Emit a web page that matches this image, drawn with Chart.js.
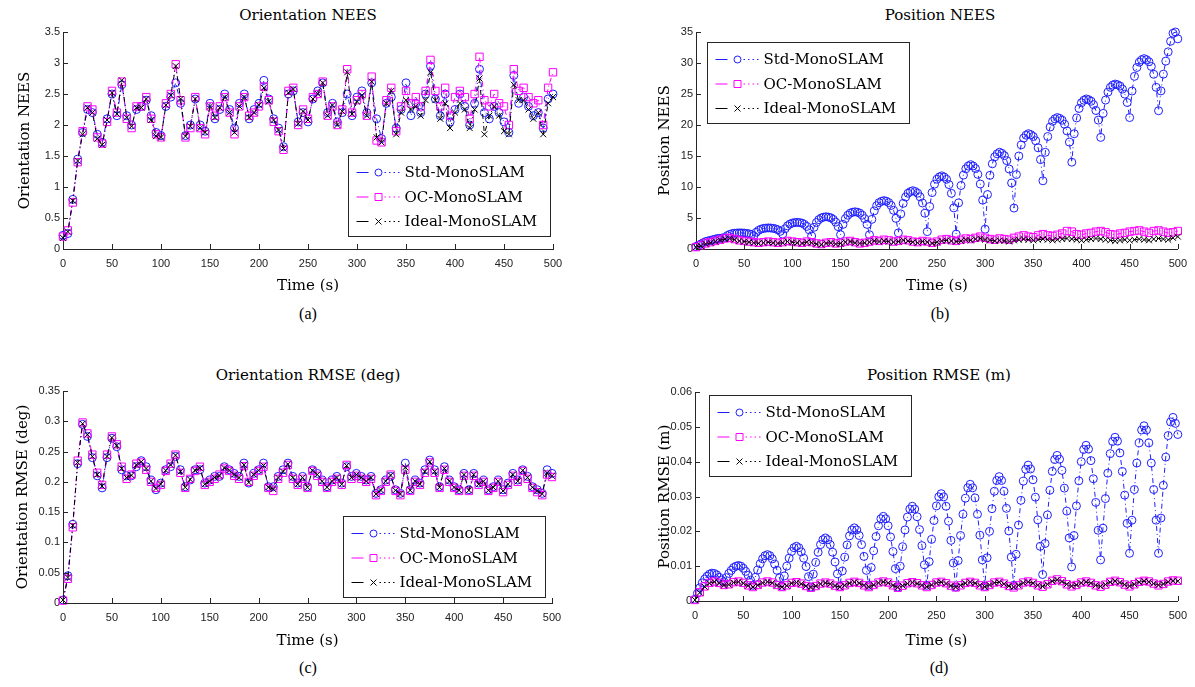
<!DOCTYPE html>
<html>
<head>
<meta charset="utf-8">
<script src="https://cdn.jsdelivr.net/npm/chart.js@4.4.1/dist/chart.umd.min.js"></script>
<style>
body { margin: 0; background: #fff; width: 1195px; height: 687px; position: relative; overflow: hidden; }
canvas { position: absolute; }
.ttl { position: absolute; font: 15px "DejaVu Serif"; color: #000; transform: translate(-50%, -50%); white-space: nowrap; }
.cap { position: absolute; font: 16px "Liberation Serif"; color: #000; transform: translate(-50%, -50%); }
</style>
</head>
<body>
<div class="ttl" style="left:308px;top:15px">Orientation NEES</div>
<div class="ttl" style="left:940px;top:15px">Position NEES</div>
<div class="ttl" style="left:308px;top:375px">Orientation RMSE (deg)</div>
<div class="ttl" style="left:939px;top:375px">Position RMSE (m)</div>
<div class="cap" style="left:308px;top:314px">(a)</div>
<div class="cap" style="left:940px;top:314px">(b)</div>
<div class="cap" style="left:308px;top:668px">(c)</div>
<div class="cap" style="left:939px;top:668px">(d)</div>

<canvas id="ca" width="597" height="300" style="left:0;top:0"></canvas>
<canvas id="cb" width="565" height="300" style="left:630px;top:0"></canvas>
<canvas id="cc" width="597" height="300" style="left:0;top:355px"></canvas>
<canvas id="cd" width="565" height="300" style="left:630px;top:355px"></canvas>

<script>
// time axes (s)
var t5 = [];
for (var i = 0; i <= 100; i++) t5.push(i * 5);
var t25 = [];
for (var i = 0; i <= 200; i++) t25.push(i * 2.5);

var seriesNames = ['Std-MonoSLAM', 'OC-MonoSLAM', 'Ideal-MonoSLAM'];

var xTicks = [0, 50, 100, 150, 200, 250, 300, 350, 400, 450, 500];
var xLabels = ['0', '50', '100', '150', '200', '250', '300', '350', '400', '450', '500'];
var yTicksA = [0, 0.5, 1, 1.5, 2, 2.5, 3, 3.5];
var yLabelsA = ['0', '0.5', '1', '1.5', '2', '2.5', '3', '3.5'];
var yTicksB = [0, 5, 10, 15, 20, 25, 30, 35];
var yLabelsB = ['0', '5', '10', '15', '20', '25', '30', '35'];
var yTicksC = [0, 0.05, 0.1, 0.15, 0.2, 0.25, 0.3, 0.35];
var yLabelsC = ['0', '0.05', '0.1', '0.15', '0.2', '0.25', '0.3', '0.35'];
var yTicksD = [0, 0.01, 0.02, 0.03, 0.04, 0.05, 0.06];
var yLabelsD = ['0', '0.01', '0.02', '0.03', '0.04', '0.05', '0.06'];

// (a) orientation NEES, every 5 s
var stdA = [0.22, 0.25, 0.8, 1.45, 1.88, 2.25, 2.2, 1.85, 1.72, 2.1, 2.5, 2.15, 2.65, 2.15, 2.0, 2.25, 2.3, 2.4, 2.15, 1.88,
  1.83, 2.3, 2.45, 2.68, 2.35, 1.83, 2.0, 2.42, 2.0, 1.9, 2.35, 2.1, 2.25, 2.5, 2.25, 1.95, 2.35, 2.5, 2.1, 2.25,
  2.35, 2.72, 2.42, 2.1, 1.95, 1.65, 2.5, 2.55, 2.05, 2.2, 2.05, 2.42, 2.55, 2.68, 2.2, 2.35, 2.05, 2.2, 2.5, 2.15,
  2.45, 2.55, 2.2, 2.68, 2.1, 1.78, 2.35, 2.45, 1.95, 2.25, 2.68, 2.15, 2.35, 2.2, 2.5, 2.95, 2.42, 2.15, 2.5, 2.05,
  2.25, 2.5, 2.3, 2.0, 2.35, 2.9, 2.2, 2.1, 2.3, 2.2, 2.05, 1.88, 2.8, 2.35, 2.45, 2.3, 2.15, 2.2, 1.95, 2.42, 2.5];
var ocA = [0.2, 0.3, 0.75, 1.4, 1.9, 2.3, 2.25, 1.8, 1.7, 2.05, 2.55, 2.2, 2.7, 2.1, 1.95, 2.3, 2.3, 2.45, 2.1, 1.85,
  1.8, 2.35, 2.5, 2.98, 2.4, 1.8, 1.95, 2.45, 1.95, 1.85, 2.3, 2.15, 2.3, 2.45, 2.2, 1.85, 2.3, 2.45, 2.15, 2.2,
  2.3, 2.62, 2.4, 2.05, 1.9, 1.6, 2.55, 2.6, 2.0, 2.25, 2.1, 2.45, 2.5, 2.7, 2.15, 2.3, 2.0, 2.25, 2.9, 2.2,
  2.4, 2.5, 2.15, 2.78, 1.75, 1.72, 2.4, 2.6, 1.9, 2.3, 2.55, 2.35, 2.45, 2.3, 2.55, 3.05, 2.55, 2.3, 2.6, 2.15,
  2.45, 2.55, 2.45, 2.1, 2.5, 3.1, 2.4, 2.3, 2.5, 2.35, 2.3, 2.0, 2.9, 2.55, 2.6, 2.45, 2.35, 2.4, 2.0, 2.6, 2.85];
var idealA = [0.18, 0.28, 0.78, 1.42, 1.85, 2.28, 2.2, 1.78, 1.68, 2.08, 2.52, 2.18, 2.72, 2.12, 1.98, 2.28, 2.28, 2.42, 2.08, 1.82,
  1.8, 2.32, 2.48, 2.95, 2.42, 1.82, 1.98, 2.42, 1.95, 1.88, 2.3, 2.12, 2.28, 2.45, 2.2, 1.88, 2.3, 2.45, 2.12, 2.2,
  2.32, 2.6, 2.38, 2.08, 1.92, 1.62, 2.52, 2.58, 2.02, 2.22, 2.08, 2.42, 2.5, 2.68, 2.15, 2.32, 2.0, 2.22, 2.85, 2.18,
  2.38, 2.48, 2.15, 2.7, 1.8, 1.72, 2.35, 2.55, 1.85, 2.2, 2.4, 2.25, 2.3, 2.15, 2.4, 2.85, 2.4, 2.1, 2.35, 1.95,
  2.2, 2.35, 2.25, 1.95, 2.25, 2.75, 1.85, 2.15, 2.3, 2.15, 1.9, 1.85, 2.65, 2.4, 2.4, 2.25, 2.1, 2.2, 1.85, 2.35, 2.45];

// (b) position NEES; Std every 2.5 s, others every 5 s
var stdB = [0.4, 0.6, 0.8, 1.0, 1.2, 1.3, 1.4, 1.5, 1.6, 1.7, 1.7, 1.8,
  1.8, 2.16, 2.36, 2.48, 2.55, 2.58, 2.6, 2.59, 2.57, 2.52, 2.45, 2.32,
  2.1, 2.69, 3.01, 3.2, 3.32, 3.37, 3.4, 3.38, 3.34, 3.25, 3.1, 2.85,
  2.4, 3.26, 3.73, 4.02, 4.19, 4.26, 4.3, 4.26, 4.17, 3.97, 3.64, 3.09,
  2.1, 3.5, 4.27, 4.74, 5.01, 5.14, 5.2, 5.14, 5.03, 4.77, 4.33, 3.61,
  2.3, 3.97, 4.89, 5.45, 5.78, 5.93, 6.0, 5.93, 5.78, 5.45, 4.89, 3.97,
  2.3, 4.78, 6.15, 6.98, 7.47, 7.69, 7.8, 7.7, 7.49, 7.02, 6.24, 4.94,
  2.6, 5.66, 7.36, 8.38, 8.99, 9.26, 9.4, 9.27, 9.0, 8.41, 7.42, 5.77,
  2.8, 6.85, 9.1, 10.45, 11.26, 11.62, 11.8, 11.61, 11.24, 10.39, 8.98, 6.63,
  2.4, 7.44, 10.24, 11.92, 12.93, 13.38, 13.6, 13.39, 12.98, 12.04, 10.48, 7.88,
  3.2, 8.78, 11.88, 13.74, 14.86, 15.35, 15.6, 15.42, 15.06, 14.25, 12.9, 10.65,
  6.6, 12.0, 15.0, 16.8, 17.88, 18.36, 18.6, 18.45, 18.14, 17.46, 16.32, 14.42,
  11.0, 15.59, 18.14, 19.67, 20.59, 21.0, 21.2, 21.06, 20.77, 20.12, 19.04, 17.24,
  14.0, 18.59, 21.14, 22.67, 23.59, 24.0, 24.2, 24.08, 23.83, 23.27, 22.34, 20.79,
  18.0, 21.87, 24.02, 25.31, 26.08, 26.43, 26.6, 26.49, 26.28, 25.79, 24.98, 23.63,
  21.2, 25.48, 27.85, 29.28, 30.13, 30.51, 30.7, 30.53, 30.2, 29.44, 28.18, 26.08,
  22.3, 25.5, 28.2, 30.3, 31.8, 33.5, 34.8, 35.0, 33.9];
var ocB = [0.3, 0.6, 0.9, 1.1, 1.3, 1.5, 1.7, 1.8, 1.6, 1.4, 1.3, 1.2, 1.1, 1.0, 1.1, 1.2, 1.1, 1.0, 1.1, 1.3,
  1.2, 1.1, 1.0, 1.2, 1.1, 0.9, 0.8, 1.0, 1.1, 0.9, 1.0, 1.2, 1.3, 1.1, 0.9, 1.0, 1.2, 1.4, 1.3, 1.5,
  1.4, 1.2, 1.3, 1.5, 1.4, 1.2, 1.1, 1.3, 1.2, 1.0, 1.2, 1.5, 1.6, 1.4, 1.3, 1.5, 1.7, 1.6, 1.8, 2.0,
  1.8, 1.6, 1.5, 1.7, 1.6, 1.5, 1.8, 2.0, 2.2, 2.0, 1.9, 2.2, 2.4, 2.2, 2.1, 2.3, 2.5, 2.9, 2.8, 2.4,
  2.3, 2.5, 2.6, 2.8, 2.9, 2.7, 2.4, 2.3, 2.5, 2.6, 2.8, 2.9, 3.0, 2.8, 2.6, 2.9, 3.0, 2.8, 2.6, 2.7, 2.9];
var idealB = [0.3, 0.5, 0.8, 1.0, 1.2, 1.4, 1.6, 1.7, 1.5, 1.3, 1.2, 1.1, 1.0, 0.9, 1.0, 1.1, 1.0, 0.9, 1.0, 1.2,
  1.1, 1.0, 0.9, 1.1, 1.0, 0.8, 0.7, 0.9, 1.0, 0.8, 0.9, 1.1, 1.2, 1.0, 0.9, 1.0, 1.1, 1.3, 1.2, 1.3,
  1.2, 1.1, 1.2, 1.4, 1.3, 1.1, 1.0, 1.2, 1.1, 0.9, 1.1, 1.3, 1.4, 1.3, 1.2, 1.3, 1.5, 1.4, 1.6, 1.7,
  1.5, 1.4, 1.3, 1.4, 1.3, 1.2, 1.4, 1.5, 1.6, 1.5, 1.4, 1.5, 1.6, 1.5, 1.4, 1.5, 1.6, 1.7, 1.6, 1.5,
  1.4, 1.5, 1.6, 1.7, 1.6, 1.5, 1.4, 1.3, 1.4, 1.5, 1.4, 1.5, 1.6, 1.5, 1.4, 1.6, 1.7, 1.6, 1.5, 1.8, 2.0];

// (c) orientation RMSE (deg), every 5 s
var stdC = [0.005, 0.045, 0.13, 0.23, 0.295, 0.275, 0.24, 0.21, 0.19, 0.24, 0.272, 0.258, 0.22, 0.21, 0.21, 0.225, 0.235, 0.225, 0.203, 0.187,
  0.198, 0.22, 0.225, 0.242, 0.22, 0.192, 0.203, 0.22, 0.22, 0.198, 0.203, 0.209, 0.209, 0.225, 0.22, 0.214, 0.209, 0.231, 0.198, 0.214,
  0.22, 0.231, 0.192, 0.192, 0.209, 0.22, 0.231, 0.209, 0.198, 0.209, 0.192, 0.22, 0.214, 0.203, 0.192, 0.203, 0.209, 0.198, 0.225, 0.209,
  0.214, 0.209, 0.203, 0.209, 0.181, 0.187, 0.203, 0.209, 0.187, 0.181, 0.231, 0.187, 0.203, 0.198, 0.22, 0.236, 0.22, 0.192, 0.225, 0.203,
  0.192, 0.187, 0.214, 0.187, 0.214, 0.198, 0.203, 0.187, 0.192, 0.203, 0.187, 0.198, 0.214, 0.203, 0.22, 0.209, 0.192, 0.187, 0.181, 0.22, 0.214];
var ocC = [0.004, 0.04, 0.125, 0.235, 0.298, 0.28, 0.245, 0.215, 0.195, 0.245, 0.275, 0.262, 0.225, 0.205, 0.212, 0.23, 0.232, 0.22, 0.2, 0.19,
  0.195, 0.218, 0.23, 0.245, 0.215, 0.19, 0.205, 0.218, 0.225, 0.195, 0.2, 0.205, 0.212, 0.222, 0.218, 0.21, 0.205, 0.226, 0.2, 0.21,
  0.218, 0.225, 0.19, 0.185, 0.205, 0.215, 0.228, 0.205, 0.195, 0.205, 0.19, 0.218, 0.21, 0.2, 0.19, 0.2, 0.205, 0.195, 0.228, 0.205,
  0.21, 0.205, 0.2, 0.205, 0.178, 0.185, 0.2, 0.212, 0.185, 0.178, 0.22, 0.185, 0.2, 0.195, 0.215, 0.232, 0.215, 0.19, 0.22, 0.2,
  0.19, 0.185, 0.21, 0.185, 0.21, 0.195, 0.2, 0.185, 0.19, 0.2, 0.183, 0.195, 0.21, 0.2, 0.218, 0.205, 0.19, 0.183, 0.178, 0.212, 0.208];
var idealC = [0.005, 0.042, 0.128, 0.232, 0.296, 0.278, 0.242, 0.212, 0.193, 0.242, 0.273, 0.26, 0.222, 0.207, 0.211, 0.228, 0.233, 0.222, 0.201, 0.189,
  0.196, 0.219, 0.228, 0.244, 0.217, 0.191, 0.204, 0.219, 0.223, 0.196, 0.201, 0.207, 0.21, 0.223, 0.219, 0.212, 0.207, 0.228, 0.199, 0.212,
  0.219, 0.227, 0.191, 0.188, 0.207, 0.217, 0.229, 0.207, 0.196, 0.207, 0.191, 0.219, 0.212, 0.201, 0.191, 0.201, 0.207, 0.196, 0.227, 0.207,
  0.212, 0.207, 0.201, 0.207, 0.18, 0.186, 0.201, 0.211, 0.186, 0.18, 0.224, 0.186, 0.201, 0.196, 0.217, 0.233, 0.217, 0.191, 0.222, 0.201,
  0.191, 0.186, 0.212, 0.186, 0.212, 0.196, 0.201, 0.186, 0.191, 0.201, 0.185, 0.196, 0.212, 0.201, 0.219, 0.207, 0.191, 0.185, 0.18, 0.215, 0.21];

// (d) position RMSE (m); Std every 2.5 s, others every 5 s
var stdD = [0.0005, 0.0022, 0.0038, 0.0052, 0.0063, 0.0071, 0.0077, 0.0080, 0.0079, 0.0075, 0.0068, 0.0060,
  0.0055, 0.0067, 0.0079, 0.0088, 0.0096, 0.0100, 0.0102, 0.0100, 0.0094, 0.0085, 0.0074, 0.0060,
  0.0045, 0.0068, 0.0089, 0.0107, 0.0121, 0.0130, 0.0133, 0.0130, 0.0121, 0.0106, 0.0088, 0.0066,
  0.0042, 0.0072, 0.0100, 0.0123, 0.0142, 0.0153, 0.0157, 0.0153, 0.0141, 0.0123, 0.0099, 0.0070,
  0.0040, 0.0077, 0.0111, 0.0140, 0.0162, 0.0176, 0.0181, 0.0176, 0.0162, 0.0140, 0.0112, 0.0078,
  0.0042, 0.0086, 0.0126, 0.0161, 0.0187, 0.0204, 0.0210, 0.0204, 0.0188, 0.0162, 0.0128, 0.0088,
  0.0045, 0.0096, 0.0144, 0.0185, 0.0216, 0.0236, 0.0243, 0.0236, 0.0216, 0.0184, 0.0142, 0.0093,
  0.0040, 0.0100, 0.0156, 0.0204, 0.0241, 0.0264, 0.0272, 0.0264, 0.0242, 0.0205, 0.0159, 0.0104,
  0.0045, 0.0113, 0.0177, 0.0231, 0.0273, 0.0299, 0.0308, 0.0299, 0.0272, 0.0229, 0.0174, 0.0109,
  0.0040, 0.0116, 0.0188, 0.0249, 0.0295, 0.0325, 0.0335, 0.0325, 0.0296, 0.0249, 0.0189, 0.0118,
  0.0042, 0.0124, 0.0200, 0.0265, 0.0315, 0.0346, 0.0357, 0.0346, 0.0315, 0.0266, 0.0201, 0.0126,
  0.0045, 0.0134, 0.0218, 0.0289, 0.0344, 0.0378, 0.0390, 0.0379, 0.0348, 0.0298, 0.0233, 0.0157,
  0.0076, 0.0165, 0.0247, 0.0318, 0.0372, 0.0406, 0.0418, 0.0407, 0.0375, 0.0324, 0.0258, 0.0181,
  0.0098, 0.0188, 0.0273, 0.0345, 0.0400, 0.0435, 0.0447, 0.0436, 0.0403, 0.0351, 0.0283, 0.0203,
  0.0118, 0.0209, 0.0294, 0.0367, 0.0423, 0.0458, 0.0470, 0.0459, 0.0425, 0.0372, 0.0304, 0.0223,
  0.0137, 0.0232, 0.0320, 0.0396, 0.0454, 0.0491, 0.0503, 0.0491, 0.0454, 0.0396, 0.0320, 0.0232,
  0.0137, 0.0238, 0.0332, 0.0413, 0.0475, 0.0514, 0.0527, 0.0510, 0.0478];
var ocD = [0.0003, 0.0025, 0.0042, 0.0052, 0.0056, 0.0052, 0.0046, 0.0048, 0.0054, 0.0056, 0.0052, 0.0045, 0.0040, 0.0046, 0.0053, 0.0056, 0.0053, 0.0046, 0.0040, 0.0045,
  0.0052, 0.0054, 0.0050, 0.0043, 0.0038, 0.0043, 0.0050, 0.0053, 0.0050, 0.0044, 0.0040, 0.0045, 0.0052, 0.0055, 0.0052, 0.0045, 0.0040, 0.0046, 0.0053, 0.0056,
  0.0053, 0.0045, 0.0038, 0.0044, 0.0051, 0.0054, 0.0051, 0.0045, 0.0040, 0.0046, 0.0053, 0.0055, 0.0051, 0.0044, 0.0039, 0.0045, 0.0052, 0.0055, 0.0052, 0.0045,
  0.0040, 0.0046, 0.0053, 0.0055, 0.0050, 0.0043, 0.0039, 0.0045, 0.0053, 0.0056, 0.0052, 0.0045, 0.0041, 0.0048, 0.0058, 0.0062, 0.0057, 0.0048, 0.0042, 0.0046,
  0.0053, 0.0056, 0.0052, 0.0045, 0.0041, 0.0047, 0.0055, 0.0058, 0.0054, 0.0047, 0.0042, 0.0048, 0.0055, 0.0058, 0.0056, 0.0050, 0.0045, 0.0049, 0.0056, 0.0059, 0.0058];
var idealD = [0.0003, 0.0024, 0.0041, 0.0051, 0.0055, 0.0051, 0.0045, 0.0047, 0.0053, 0.0055, 0.0051, 0.0044, 0.0040, 0.0045, 0.0052, 0.0055, 0.0052, 0.0045, 0.0040, 0.0044,
  0.0051, 0.0053, 0.0049, 0.0043, 0.0039, 0.0043, 0.0049, 0.0052, 0.0049, 0.0044, 0.0040, 0.0045, 0.0051, 0.0054, 0.0051, 0.0045, 0.0041, 0.0046, 0.0052, 0.0055,
  0.0052, 0.0045, 0.0039, 0.0044, 0.0050, 0.0053, 0.0050, 0.0045, 0.0041, 0.0046, 0.0052, 0.0054, 0.0050, 0.0044, 0.0040, 0.0045, 0.0051, 0.0054, 0.0051, 0.0045,
  0.0041, 0.0046, 0.0052, 0.0054, 0.0049, 0.0043, 0.0040, 0.0045, 0.0052, 0.0055, 0.0051, 0.0045, 0.0042, 0.0048, 0.0057, 0.0061, 0.0056, 0.0048, 0.0043, 0.0046,
  0.0052, 0.0055, 0.0051, 0.0045, 0.0042, 0.0047, 0.0054, 0.0057, 0.0053, 0.0047, 0.0043, 0.0048, 0.0054, 0.0057, 0.0055, 0.0050, 0.0046, 0.0049, 0.0055, 0.0058, 0.0057];

var blue = '#1f1fff';
var magenta = '#ff00ff';
var black = '#000000';
var axisColor = '#262626';

function pts(ts, vs) {
  return vs.map(function (v, i) { return { x: ts[i], y: v }; });
}

function series(name, ts, vs, color, style, radius, order) {
  return {
    label: name,
    data: pts(ts, vs),
    borderColor: color,
    backgroundColor: 'rgba(0,0,0,0)',
    borderWidth: 1,
    borderDash: [5, 3, 1, 3],
    pointStyle: style,
    pointRadius: radius,
    pointBorderColor: color,
    pointBackgroundColor: 'rgba(0,0,0,0)',
    pointBorderWidth: 1,
    tension: 0,
    clip: 8,
    order: order
  };
}

// ticks pointing into the plot, like the original
var inwardTicks = {
  id: 'inwardTicks',
  afterDraw: function (chart) {
    var ctx = chart.ctx, a = chart.chartArea;
    var xs = chart.scales.x, ys = chart.scales.y;
    ctx.save();
    ctx.strokeStyle = axisColor;
    ctx.lineWidth = 1;
    ctx.beginPath();
    xs.ticks.forEach(function (t) {
      var px = Math.round(xs.getPixelForValue(t.value)) + 0.5;
      ctx.moveTo(px, a.bottom);
      ctx.lineTo(px, a.bottom - 5);
    });
    ys.ticks.forEach(function (t) {
      var py = Math.round(ys.getPixelForValue(t.value)) + 0.5;
      ctx.moveTo(a.left, py);
      ctx.lineTo(a.left + 5, py);
    });
    ctx.stroke();
    ctx.restore();
  }
};

function marker(ctx, style, x, y) {
  ctx.beginPath();
  if (style === 'circle') {
    ctx.arc(x, y, 3.5, 0, Math.PI * 2);
  } else if (style === 'rect') {
    ctx.rect(x - 3.5, y - 3.5, 7, 7);
  } else {
    ctx.moveTo(x - 3, y - 3); ctx.lineTo(x + 3, y + 3);
    ctx.moveTo(x + 3, y - 3); ctx.lineTo(x - 3, y + 3);
  }
  ctx.stroke();
}

// framed legend drawn inside the axes
var boxLegend = {
  id: 'boxLegend',
  afterDraw: function (chart, args, o) {
    var ctx = chart.ctx, a = chart.chartArea;
    var x0 = Math.round(a.left + o.dx) + 0.5, y0 = Math.round(a.top + o.dy) + 0.5;
    ctx.save();
    ctx.fillStyle = '#fff';
    ctx.fillRect(x0, y0, o.w, o.h);
    ctx.strokeStyle = axisColor;
    ctx.lineWidth = 1;
    ctx.strokeRect(x0, y0, o.w, o.h);
    chart.data.datasets.forEach(function (ds, i) {
      var y = y0 + 17 + i * 24.5;
      ctx.strokeStyle = ds.borderColor;
      ctx.setLineDash([]);
      ctx.beginPath();
      ctx.moveTo(x0 + 8, y); ctx.lineTo(x0 + 20, y);
      ctx.stroke();
      marker(ctx, ds.pointStyle, x0 + 30, y);
      ctx.setLineDash([1.5, 3]);
      ctx.beginPath();
      ctx.moveTo(x0 + 36, y); ctx.lineTo(x0 + 52, y);
      ctx.stroke();
      ctx.setLineDash([]);
      ctx.fillStyle = '#000';
      ctx.font = '15px "DejaVu Serif"';
      ctx.textBaseline = 'middle';
      ctx.fillText(ds.label, x0 + 56, y + 1);
    });
    ctx.restore();
  }
};

function makeChart(id, p) {
  new Chart(document.getElementById(id), {
    type: 'line',
    data: {
      datasets: [
        series(seriesNames[0], p.tStd, p.std, blue, 'circle', 4, 3),
        series(seriesNames[1], t5, p.oc, magenta, 'rect', 5.2, 2),
        series(seriesNames[2], t5, p.ideal, black, 'crossRot', 4.2, 1)
      ]
    },
    options: {
      responsive: false,
      animation: false,
      events: [],
      layout: { padding: { left: 0, top: p.top, right: p.right, bottom: 0 } },
      plugins: {
        legend: { display: false },
        tooltip: { enabled: false },
        boxLegend: p.legend
      },
      scales: {
        x: {
          type: 'linear',
          min: 0,
          max: 500,
          afterBuildTicks: function (s) { s.ticks = xTicks.map(function (v) { return { value: v }; }); },
          afterFit: function (s) { s.height = p.xH; },
          grid: { display: false, drawTicks: false },
          border: { display: true, color: axisColor, width: 1 },
          ticks: {
            padding: 8,
            color: '#222',
            font: { family: 'Liberation Sans', size: 11 },
            maxRotation: 0,
            callback: function (v, i) { return xLabels[i]; }
          },
          title: {
            display: true,
            text: 'Time (s)',
            color: '#000',
            font: { family: 'DejaVu Serif', size: 15 },
            padding: { top: 0, bottom: 5 }
          }
        },
        y: {
          type: 'linear',
          min: 0,
          max: p.yTicks[p.yTicks.length - 1],
          afterBuildTicks: function (s) { s.ticks = p.yTicks.map(function (v) { return { value: v }; }); },
          afterFit: function (s) { s.width = p.yW; },
          grid: { display: false, drawTicks: false },
          border: { display: true, color: axisColor, width: 1 },
          ticks: {
            padding: 3,
            color: '#222',
            font: { family: 'Liberation Sans', size: 11 },
            callback: function (v, i) { return p.yLabels[i]; }
          },
          title: {
            display: true,
            text: p.yTitle,
            color: '#000',
            font: { family: 'DejaVu Serif', size: 15 },
            padding: { top: p.yTitlePad, bottom: 0 }
          }
        }
      }
    },
    plugins: [inwardTicks, boxLegend]
  });
}

makeChart('ca', {
  tStd: t5, std: stdA, oc: ocA, ideal: idealA,
  yTicks: yTicksA, yLabels: yLabelsA, yTitle: 'Orientation NEES',
  top: 32, right: 44, xH: 51, yW: 63, yTitlePad: 16,
  legend: { dx: 285, dy: 123, w: 202, h: 81 }
});
makeChart('cb', {
  tStd: t25, std: stdB, oc: ocB, ideal: idealB,
  yTicks: yTicksB, yLabels: yLabelsB, yTitle: 'Position NEES',
  top: 32, right: 12, xH: 51, yW: 66, yTitlePad: 26,
  legend: { dx: 11, dy: 10, w: 202, h: 81 }
});
makeChart('cc', {
  tStd: t5, std: stdC, oc: ocC, ideal: idealC,
  yTicks: yTicksC, yLabels: yLabelsC, yTitle: 'Orientation RMSE (deg)',
  top: 36, right: 45, xH: 52, yW: 63, yTitlePad: 14,
  legend: { dx: 280, dy: 125, w: 202, h: 81 }
});
makeChart('cd', {
  tStd: t25, std: stdD, oc: ocD, ideal: idealD,
  yTicks: yTicksD, yLabels: yLabelsD, yTitle: 'Position RMSE (m)',
  top: 37, right: 13, xH: 54, yW: 65, yTitlePad: 26,
  legend: { dx: 14, dy: 3, w: 202, h: 81 }
});
</script>
</body>
</html>
